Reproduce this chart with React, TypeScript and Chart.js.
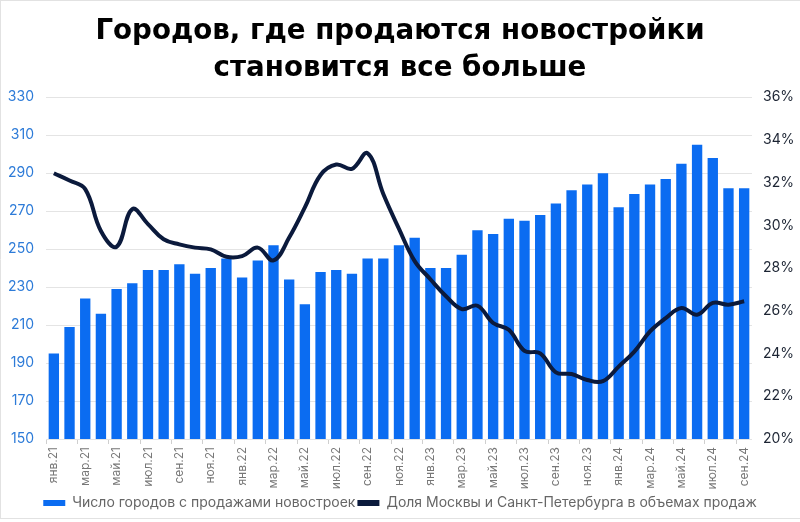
import React, { useEffect, useRef } from "react";
import { Chart, registerables } from "chart.js";

Chart.register(...registerables);

const MONTHS = ["янв", "фев", "мар", "апр", "май", "июн", "июл", "авг", "сен", "окт", "ноя", "дек"];
const YEARS = ["21", "22", "23", "24"];
const categories: string[] = [];
for (const y of YEARS) for (const m of MONTHS) categories.push(`${m}.${y}`);
const labels = categories.slice(0, 45);

const citiesCount = [
  195, 209, 224, 216, 229, 232, 239, 239, 242, 237, 240, 245,
  235, 244, 252, 234, 221, 238, 239, 237, 245, 245, 252, 256,
  240, 240, 247, 260, 258, 266, 265, 268, 274, 281, 284, 290,
  272, 279, 284, 287, 295, 305, 298, 282, 282,
];

const mskSpbShare = [
  32.44, 32.1, 31.7, 29.74, 29.0, 30.76, 30.06, 29.35, 29.11, 28.96, 28.88, 28.53,
  28.56, 28.96, 28.36, 29.43, 30.84, 32.36, 32.85, 32.65, 33.38, 31.47, 29.84, 28.33,
  27.48, 26.68, 26.08, 26.24, 25.43, 25.11, 24.13, 24.01, 23.12, 23.04, 22.76, 22.71,
  23.39, 24.09, 25.04, 25.66, 26.13, 25.82, 26.37, 26.29, 26.45,
];

const TITLE = ["Городов, где продаются новостройки", "становится все больше"];
const BAR_LABEL = "Число городов с продажами новостроек";
const LINE_LABEL = "Доля Москвы и Санкт-Петербурга в объемах продаж";

const FONT = "Inter, 'Noto Sans', sans-serif";
const TITLE_FONT = "'DejaVu Sans', Inter, sans-serif";

const frame = {
  id: "frame",
  afterDraw(chart: any) {
    const ctx = chart.ctx;
    ctx.save();
    ctx.strokeStyle = "#e2e2e2";
    ctx.lineWidth = 1;
    ctx.beginPath();
    ctx.moveTo(0.5, 0);
    ctx.lineTo(0.5, 519);
    ctx.moveTo(0, 0.5);
    ctx.lineTo(800, 0.5);
    ctx.moveTo(0, 518.5);
    ctx.lineTo(800, 518.5);
    ctx.stroke();
    ctx.restore();
  },
};

export default function App() {
  const ref = useRef<HTMLCanvasElement>(null);
  useEffect(() => {
    if (!ref.current) return;
    const chart = new Chart(ref.current, {
      type: "bar",
      data: {
        labels,
        datasets: [
          {
            type: "bar",
            label: BAR_LABEL,
            data: citiesCount,
            backgroundColor: "#0b6cf1",
            yAxisID: "y",
            order: 2,
            barPercentage: 0.66,
            categoryPercentage: 1,
          },
          {
            type: "line",
            label: LINE_LABEL,
            data: mskSpbShare,
            borderColor: "#0b1a3c",
            backgroundColor: "#0b1a3c",
            borderWidth: 4,
            pointRadius: 0,
            tension: 0.4,
            yAxisID: "y1",
            order: 1,
          } as any,
        ],
      },
      options: {
        responsive: false,
        animation: false,
        layout: { padding: { bottom: 2 } },
        plugins: {
          tooltip: { enabled: false },
          title: {
            display: true,
            text: TITLE,
            color: "#000",
            font: { family: TITLE_FONT, size: 27.7, weight: "bold", lineHeight: 1.34 },
            padding: { top: 13, bottom: 10 },
          },
          legend: {
            position: "bottom",
            labels: {
              color: "#666",
              font: { family: FONT, size: 14 },
              boxWidth: 22,
              boxHeight: 6,
              padding: 2,
              sort: (a: any, b: any) => a.datasetIndex - b.datasetIndex,
              generateLabels: (c: any) => {
                const items = (Chart.defaults as any).plugins.legend.labels.generateLabels(c);
                items.forEach((it: any) => {
                  it.lineWidth = 0;
                  it.strokeStyle = "rgba(0,0,0,0)";
                });
                return items;
              },
            },
          },
        },
        scales: {
          x: {
            offset: true,
            grid: {
              offset: true,
              drawOnChartArea: false,
              drawTicks: true,
              tickLength: 5,
              color: (ctx: any) => (ctx.index % 2 === 0 ? "#cfcfcf" : "rgba(0,0,0,0)"),
            },
            border: { display: false },
            ticks: {
              autoSkip: false,
              maxRotation: 90,
              minRotation: 90,
              padding: 3,
              color: "#777",
              font: { family: FONT, size: 12 },
              callback: (_v: any, i: number) => (i % 2 === 0 ? labels[i] : ""),
            },
            afterFit: (s: any) => {
              s.height = 55;
            },
          },
          y: {
            position: "left",
            min: 150,
            max: 330,
            ticks: {
              stepSize: 20,
              color: "#2d7bd8",
              padding: 12,
              font: { family: FONT, size: 14 },
            },
            grid: { color: "#e4e4e4", drawTicks: false },
            border: { display: false },
            afterFit: (s: any) => {
              s.width = 46;
            },
          },
          y1: {
            position: "right",
            min: 20,
            max: 36,
            ticks: {
              stepSize: 2,
              color: "#1c2433",
              padding: 11,
              font: { family: FONT, size: 14 },
              callback: (v: any) => `${v}%`,
            },
            grid: { display: false, drawTicks: false },
            border: { display: false },
            afterFit: (s: any) => {
              s.width = 48;
            },
          },
        },
      },
      plugins: [frame],
    });
    return () => chart.destroy();
  }, []);
  return (
    <div style={{ position: "fixed", left: 0, top: 0, width: 800, height: 522, background: "#fff" }}>
      <canvas ref={ref} width={800} height={522} />
    </div>
  );
}
